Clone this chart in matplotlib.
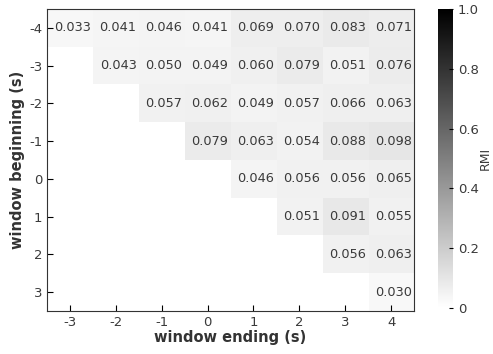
import numpy as np
import matplotlib
matplotlib.use("Agg")
import matplotlib.pyplot as plt

plt.rcParams['axes.unicode_minus'] = False

# window beginning (rows) and window ending (columns), in seconds
starts = [-4, -3, -2, -1, 0, 1, 2, 3]
ends = [-3, -2, -1, 0, 1, 2, 3, 4]

# RMI per window, row by row (only windows with end > start)
rmi_rows = [
    [0.033, 0.041, 0.046, 0.041, 0.069, 0.070, 0.083, 0.071],
    [0.043, 0.050, 0.049, 0.060, 0.079, 0.051, 0.076],
    [0.057, 0.062, 0.049, 0.057, 0.066, 0.063],
    [0.079, 0.063, 0.054, 0.088, 0.098],
    [0.046, 0.056, 0.056, 0.065],
    [0.051, 0.091, 0.055],
    [0.056, 0.063],
    [0.030],
]

n = len(starts)
rmi = np.full((n, len(ends)), np.nan)
for i, row in enumerate(rmi_rows):
    rmi[i, len(ends) - len(row):] = row

fig = plt.figure(figsize=(4.93, 3.54), dpi=100)
ax = fig.add_axes([47/493, 1 - 311/354, 367/493, 302/354])
cax = fig.add_axes([438/493, 1 - 308/354, 15/493, 299/354])

masked = np.ma.masked_invalid(rmi)
im = ax.imshow(masked, cmap='gray_r', vmin=0, vmax=1, aspect='auto',
               interpolation='nearest')

for i in range(n):
    for j in range(len(ends)):
        if not np.isnan(rmi[i, j]):
            ax.text(j + 0.05, i, f"{rmi[i, j]:.3f}", ha='center', va='center',
                    fontsize=9.3, color='#3a3a3a')

ax.set_xticks(range(len(ends)))
ax.set_xticklabels([str(e) for e in ends])
ax.set_yticks(range(n))
ax.set_yticklabels([str(s) for s in starts])
ax.tick_params(direction='in', labelsize=9.5, labelcolor='#3a3a3a', length=4)
ax.set_xlabel('window ending (s)', fontsize=10.5, fontweight='bold',
              color='#333333', labelpad=1)
ax.set_ylabel('window beginning (s)', fontsize=10.5, fontweight='bold',
              color='#333333', labelpad=3)
for sp in ax.spines.values():
    sp.set_color('#333333')

cb = fig.colorbar(im, cax=cax)
cb.set_ticks([0, 0.2, 0.4, 0.6, 0.8, 1.0])
cb.set_ticklabels(['0', '0.2', '0.4', '0.6', '0.8', '1.0'])
cb.ax.tick_params(direction='in', labelsize=9.5, labelcolor='#3a3a3a', length=3)
cb.outline.set_visible(False)
cb.set_label('RMI', fontsize=9, color='#3a3a3a', labelpad=0)

fig.savefig('out.png', dpi=100)
